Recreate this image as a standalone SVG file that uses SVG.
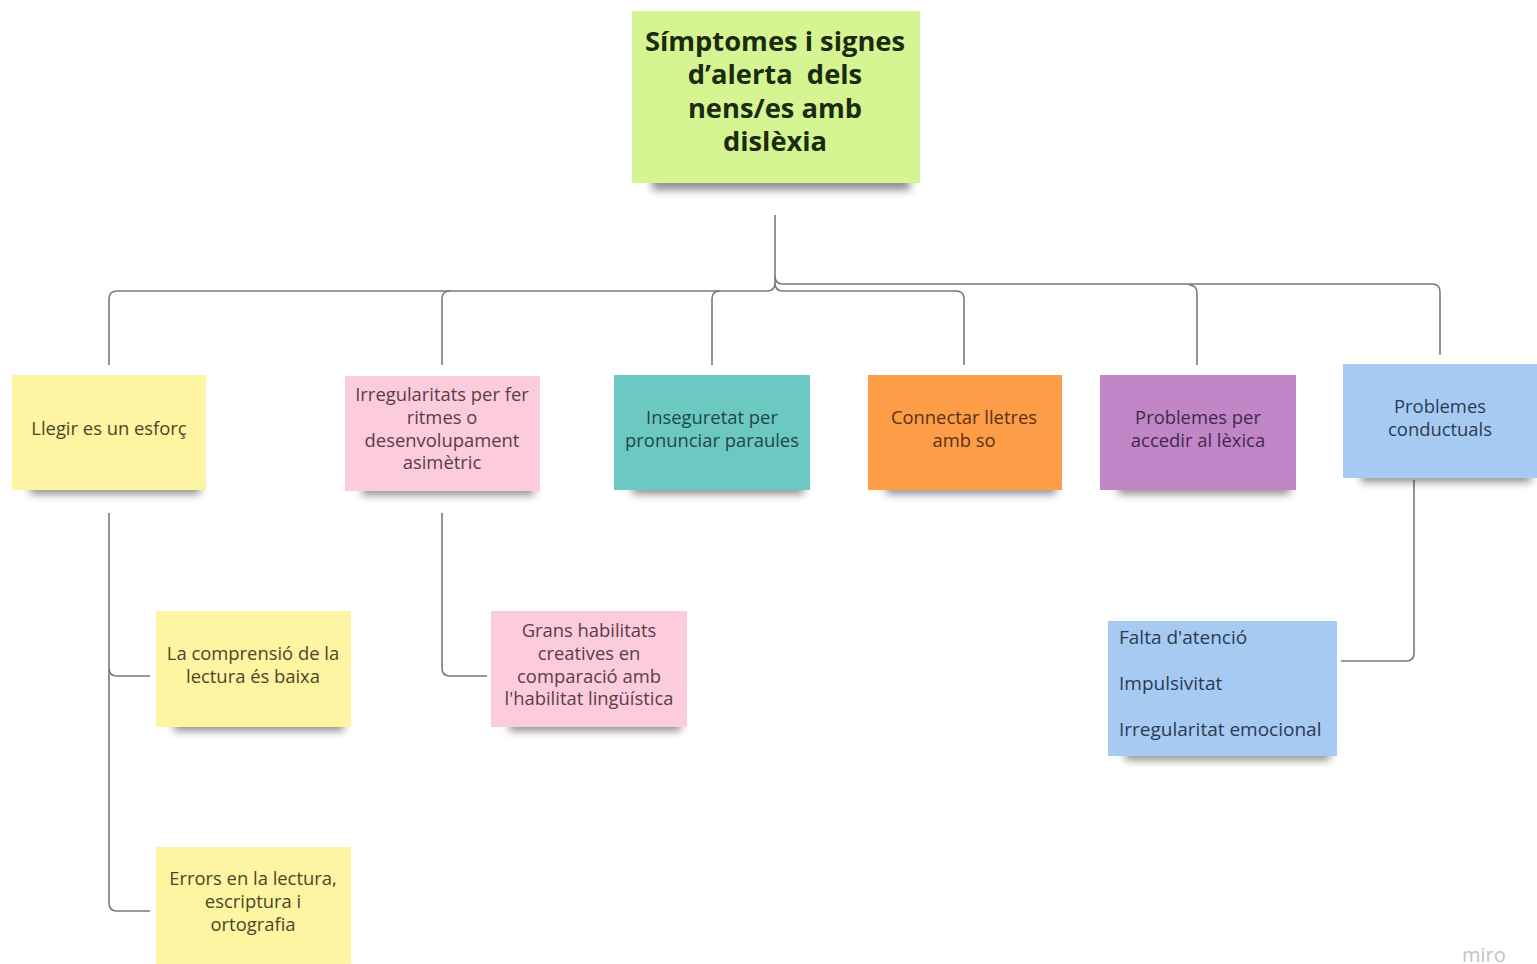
<svg xmlns="http://www.w3.org/2000/svg" width="1537" height="964" viewBox="0 0 1537 964">
<defs>
<filter id="blur" x="-20%" y="-100%" width="140%" height="300%"><feGaussianBlur stdDeviation="4"/></filter>
<style>
.t{font-family:"Open Sans","Noto Sans","Liberation Sans",sans-serif;font-size:18.4px;text-anchor:middle}
.root{font-family:"Open Sans","Noto Sans","Liberation Sans",sans-serif;font-size:27.3px;font-weight:700;text-anchor:middle;fill:#1c2a10;white-space:pre}
.l{text-anchor:start;font-size:19px}
.sh{fill:#000;opacity:.45;filter:url(#blur)}
.c{fill:none;stroke:#7a7a7a;stroke-width:1.6}
.y{fill:#fdf5a2}.yt{fill:#4a4628}
.p{fill:#fccbdc}.pt{fill:#5a3d47}
.g{fill:#6cc8c0}.gt{fill:#1f4846}
.o{fill:#fd9d47}.ot{fill:#5a3214}
.v{fill:#c186c8}.vt{fill:#3f2a48}
.b{fill:#a7caf2}.bt{fill:#2b3a52}
</style>
</defs>
<rect width="1537" height="964" fill="#fff"/>
<g id="connectors">
<path class="c" d="M775 215 V283 Q775 291 767 291 H117 Q109 291 109 299 V365"/>
<path class="c" d="M450 291 Q442 291 442 299 V365"/>
<path class="c" d="M720 291 Q712 291 712 299 V365"/>
<path class="c" d="M775 283 Q775 291 783 291 H956 Q964 291 964 299 V365"/>
<path class="c" d="M775 276 Q775 284 783 284 H1432 Q1440 284 1440 292 V355"/>
<path class="c" d="M1189 285 Q1197 285 1197 293 V365"/>
<path class="c" d="M109 513 V903 Q109 911 117 911 H150"/>
<path class="c" d="M109 668 Q109 676 117 676 H150"/>
<path class="c" d="M442 513 V668 Q442 676 450 676 H487"/>
<path class="c" d="M1414 480 V653 Q1414 661 1406 661 H1341"/>
</g>
<g id="root">
<rect class="sh" x="652" y="176" width="258" height="14"/>
<rect x="632" y="11" width="288" height="172" fill="#d5f592"/>
<text class="root" x="775" y="51">Símptomes i signes</text>
<text class="root" x="775" y="84" xml:space="preserve">d’alerta  dels</text>
<text class="root" x="775" y="118">nens/es amb</text>
<text class="root" x="775" y="151">dislèxia</text>
</g>
<g id="n-llegir">
<rect class="sh" x="30" y="482" width="170" height="12"/>
<rect class="y" x="12" y="375" width="194" height="115"/>
<text class="t yt" x="109" y="435">Llegir es un esforç</text>
</g>
<g id="n-irregularitats">
<rect class="sh" x="362" y="483" width="172" height="12"/>
<rect class="p" x="345" y="376" width="195" height="115"/>
<text class="t pt" x="442" y="401">Irregularitats per fer</text>
<text class="t pt" x="442" y="424">ritmes o</text>
<text class="t pt" x="442" y="447">desenvolupament</text>
<text class="t pt" x="442" y="469">asimètric</text>
</g>
<g id="n-inseguretat">
<rect class="sh" x="632" y="482" width="172" height="12"/>
<rect class="g" x="614" y="375" width="196" height="115"/>
<text class="t gt" x="712" y="424">Inseguretat per</text>
<text class="t gt" x="712" y="447">pronunciar paraules</text>
</g>
<g id="n-connectar">
<rect class="sh" x="886" y="482" width="170" height="12"/>
<rect class="o" x="868" y="375" width="194" height="115"/>
<text class="t ot" x="964" y="424">Connectar lletres</text>
<text class="t ot" x="964" y="447">amb so</text>
</g>
<g id="n-lexica">
<rect class="sh" x="1118" y="482" width="172" height="12"/>
<rect class="v" x="1100" y="375" width="196" height="115"/>
<text class="t vt" x="1198" y="424">Problemes per</text>
<text class="t vt" x="1198" y="447">accedir al lèxica</text>
</g>
<g id="n-conductuals">
<rect class="sh" x="1361" y="470" width="170" height="12"/>
<rect class="b" x="1343" y="364" width="194" height="114"/>
<text class="t bt" x="1440" y="413">Problemes</text>
<text class="t bt" x="1440" y="436">conductuals</text>
</g>
<g id="n-comprensio">
<rect class="sh" x="174" y="719" width="170" height="12"/>
<rect class="y" x="156" y="611" width="195" height="116"/>
<text class="t yt" x="253" y="660">La comprensió de la</text>
<text class="t yt" x="253" y="683">lectura és baixa</text>
</g>
<g id="n-grans">
<rect class="sh" x="509" y="719" width="172" height="12"/>
<rect class="p" x="491" y="611" width="196" height="116"/>
<text class="t pt" x="589" y="637">Grans habilitats</text>
<text class="t pt" x="589" y="660">creatives en</text>
<text class="t pt" x="589" y="683">comparació amb</text>
<text class="t pt" x="589" y="705">l'habilitat lingüística</text>
</g>
<g id="n-falta">
<rect class="sh" x="1125" y="748" width="205" height="12"/>
<rect class="b" x="1108" y="621" width="229" height="135"/>
<text class="t bt l" x="1119" y="644">Falta d'atenció</text>
<text class="t bt l" x="1119" y="690">Impulsivitat</text>
<text class="t bt l" x="1119" y="736">Irregularitat emocional</text>
</g>
<g id="n-errors">
<rect class="sh" x="174" y="955" width="170" height="12"/>
<rect class="y" x="156" y="847" width="195" height="117"/>
<text class="t yt" x="253" y="885">Errors en la lectura,</text>
<text class="t yt" x="253" y="908">escriptura i</text>
<text class="t yt" x="253" y="931">ortografia</text>
</g>
<text x="1462" y="962" font-family="'Open Sans','Liberation Sans',sans-serif" font-size="20" fill="#c4c4c4">miro</text>
</svg>
